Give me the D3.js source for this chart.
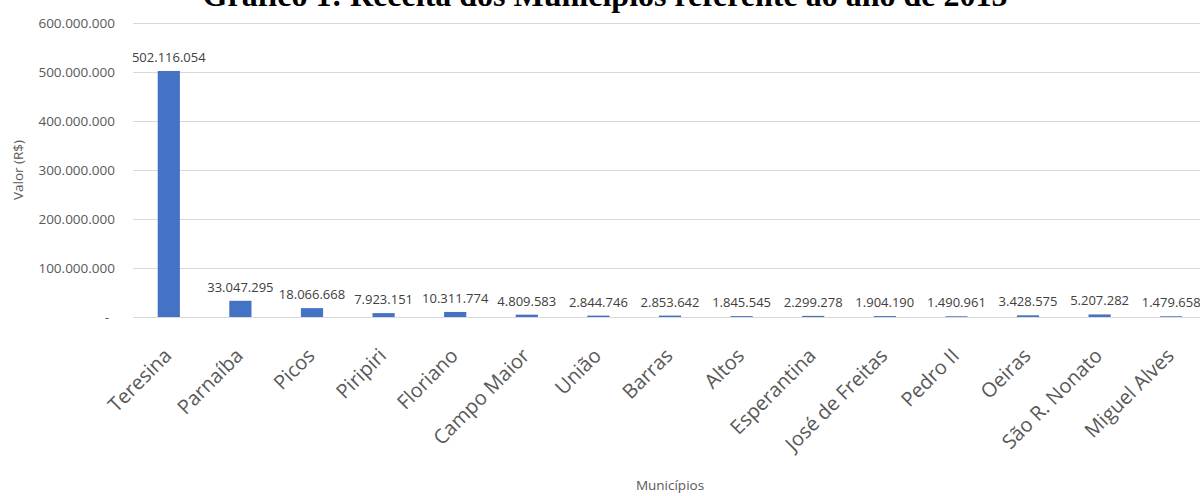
<!DOCTYPE html>
<html><head><meta charset="utf-8">
<script src="https://cdn.jsdelivr.net/npm/d3@7"></script>
<style>body{margin:0;background:#fff}svg{display:block}</style>
</head><body>
<svg id="c" width="1200" height="496"></svg>
<script>
const categories = ["Teresina","Parnaíba","Picos","Piripiri","Floriano","Campo Maior","União","Barras","Altos","Esperantina","José de Freitas","Pedro II","Oeiras","São R. Nonato","Miguel Alves"];
const values = [502116054,33047295,18066668,7923151,10311774,4809583,2844746,2853642,1845545,2299278,1904190,1490961,3428575,5207282,1479658];
const yTicks = [0,100000000,200000000,300000000,400000000,500000000,600000000];
const title = "Gráfico 1: Receita dos Municípios referente ao ano de 2015";
const yTitle = "Valor (R$)";
const xTitle = "Municípios";

const loc = d3.formatLocale({decimal:",",thousands:".",grouping:[3],currency:["R$",""]});
const fmt = loc.format(",.0f");

const svg = d3.select("#c");
const m = {left:133, right:1207, top:23, bottom:317};
const x = d3.scaleBand().domain(categories).range([m.left, m.right]).paddingInner(0.69).paddingOuter(0.345);
const y = d3.scaleLinear().domain([0,600000000]).range([m.bottom, m.top]);

// gridlines
svg.append("g").selectAll("line").data(yTicks).join("line")
  .attr("x1", m.left).attr("x2", 1200)
  .attr("y1", d=>Math.round(y(d))+0.5).attr("y2", d=>Math.round(y(d))+0.5)
  .attr("stroke", "#d9d9d9").attr("stroke-width", 1);

// y axis labels
const ya = svg.append("g").attr("transform",`translate(${m.left},0)`)
  .call(d3.axisLeft(y).tickValues(yTicks).tickSize(0).tickPadding(18).tickFormat(d=> d===0 ? "-" : fmt(d)));
ya.select(".domain").remove();
ya.selectAll("text").attr("font-family","Open Sans, sans-serif").attr("font-size",13.5).attr("fill","#595959");
ya.selectAll(".tick").filter(d=>d===0).select("text").attr("dx",-6);

// bars
svg.append("g").selectAll("rect").data(values).join("rect")
  .attr("x",(d,i)=>x(categories[i])).attr("width",x.bandwidth())
  .attr("y",d=>y(d)).attr("height",d=>m.bottom-y(d))
  .attr("fill","#4472c4");

// data labels
svg.append("g").selectAll("text").data(values).join("text")
  .attr("x",(d,i)=>x(categories[i])+x.bandwidth()/2)
  .attr("y",d=>y(d)-9)
  .attr("text-anchor","middle")
  .attr("font-family","Open Sans, sans-serif").attr("font-size",13).attr("fill","#404040")
  .text(d=>fmt(d));

// x axis labels
const xa = svg.append("g").attr("transform",`translate(0,${m.bottom})`)
  .call(d3.axisBottom(x).tickSize(0).tickPadding(0));
xa.select(".domain").remove();
xa.selectAll("text")
  .attr("font-family","Open Sans, sans-serif").attr("font-size",20).attr("fill","#595959")
  .attr("text-anchor","end").attr("dy",0)
  .attr("transform","translate(4,40) rotate(-45)");

// titles
svg.append("text").attr("x",605).attr("y",6).attr("text-anchor","middle")
  .attr("font-family","Liberation Serif, Times New Roman, serif").attr("font-weight","bold").attr("font-size",32)
  .text(title);
svg.append("text").attr("transform","translate(23,170) rotate(-90)").attr("text-anchor","middle")
  .attr("font-family","Open Sans, sans-serif").attr("font-size",13.5).attr("fill","#595959").text(yTitle);
svg.append("text").attr("x",670).attr("y",490).attr("text-anchor","middle")
  .attr("font-family","Open Sans, sans-serif").attr("font-size",13.5).attr("fill","#595959").text(xTitle);
</script>
</body></html>
